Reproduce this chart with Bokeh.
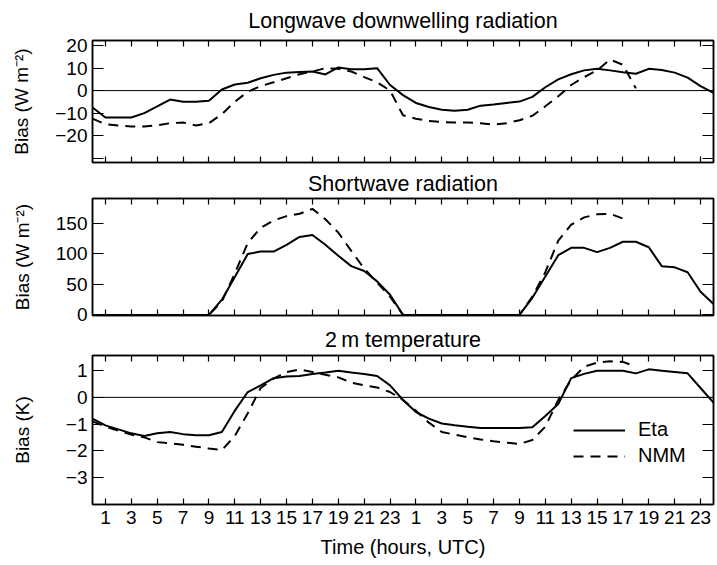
from bokeh.plotting import figure
from bokeh.layouts import column
from bokeh.models import Range1d, LinearAxis, FixedTicker, Span, Legend, LegendItem
from bokeh.embed import file_html
from bokeh.resources import INLINE

# ---------------- data ----------------
hours = list(range(0, 49))
x_ticks = [1, 3, 5, 7, 9, 11, 13, 15, 17, 19, 21, 23,
           25, 27, 29, 31, 33, 35, 37, 39, 41, 43, 45, 47]
x_tick_labels = ["1", "3", "5", "7", "9", "11", "13", "15", "17", "19", "21", "23",
                 "1", "3", "5", "7", "9", "11", "13", "15", "17", "19", "21", "23"]

lw_eta = [-7.5, -12, -12, -12, -10, -7, -4, -5, -5, -4.5,
          0.5, 2.7, 3.5, 5.5, 7, 8, 8.3, 8.5, 7.2, 10.3,
          9.5, 9.5, 10, 2.5, -2, -5.5, -7.3, -8.5, -9, -8.5,
          -6.7, -6.2, -5.5, -4.9, -2.8, 1.5, 5, 7.3, 9, 9.7,
          9, 8.2, 7.5, 9.7, 9.2, 8, 5.8, 2, -1]
lw_nmm = [-12.5, -15, -15.5, -16, -16, -15.5, -14.5, -14.2, -15.5, -14.5,
          -10.5, -5, -0.5, 2, 3.7, 5.5, 7.3, 8.5, 10, 9.7,
          8.5, 6, 3.7, 0, -11, -12.5, -13.5, -14, -14.2, -14.2,
          -14.5, -15.2, -14.5, -13.2, -11.2, -7, -2.5, 2.5, 6, 9,
          13.8, 11.5, 1]

sw_eta = [0, 0, 0, 0, 0, 0, 0, 0, 0, 0,
          25, 62, 100, 104, 104, 115, 128, 131, 115, 97,
          80, 72, 55, 33, 0, 0, 0, 0, 0, 0,
          0, 0, 0, 0, 28, 63, 98, 110, 110, 103,
          110, 120, 120, 111, 80, 78, 70, 38, 18]
sw_nmm = [0, 0, 0, 0, 0, 0, 0, 0, 0, 0,
          22, 68, 118, 143, 155, 162, 166, 174, 157, 135,
          105, 76, 53, 30, 0, 0, 0, 0, 0, 0,
          0, 0, 0, 0, 30, 70, 122, 148, 160, 165,
          166, 158]

t2_eta = [-0.8, -1.05, -1.2, -1.35, -1.45, -1.35, -1.3, -1.38, -1.42, -1.42,
          -1.3, -0.5, 0.2, 0.45, 0.72, 0.78, 0.8, 0.88, 0.93, 1.0,
          0.93, 0.88, 0.8, 0.45, -0.1, -0.55, -0.8, -0.98, -1.05, -1.1,
          -1.15, -1.15, -1.15, -1.15, -1.12, -0.7, -0.25, 0.72, 0.88, 1.0,
          1.0, 1.0, 0.9, 1.05, 1.0, 0.95, 0.9, 0.35, -0.2]
t2_nmm = [-0.9, -1.1, -1.25, -1.4, -1.5, -1.68, -1.72, -1.78, -1.85, -1.92,
          -1.98, -1.45, -0.6, 0.35, 0.7, 0.95, 1.05, 0.95, 0.85, 0.75,
          0.55, 0.45, 0.37, 0.2, -0.1, -0.5, -0.95, -1.3, -1.4, -1.5,
          -1.58, -1.65, -1.7, -1.75, -1.6, -1.1, -0.1, 0.65, 1.15, 1.3,
          1.35, 1.33, 1.15]

lw_ticks = [-30, -20, -10, 0, 10, 20]
lw_tick_labels = ["", "\u221220", "\u221210", "0", "10", "20"]
sw_ticks = [0, 50, 100, 150]
sw_tick_labels = ["0", "50", "100", "150"]
t2_ticks = [-3, -2, -1, 0, 1]
t2_tick_labels = ["\u22123", "\u22122", "\u22121", "0", "1"]

titles = ["Longwave downwelling radiation", "Shortwave radiation", "2\u2009m temperature"]
series_names = ["Eta", "NMM"]

FONT = "Liberation Sans"
TICK_FS = "19px"
DASH = "10 7"


def style_axis(ax, ticks, labels, tick_in, show_labels):
    ax.ticker = FixedTicker(ticks=ticks)
    ax.major_tick_in = tick_in
    ax.major_tick_out = 0
    ax.minor_tick_in = 0
    ax.minor_tick_out = 0
    ax.axis_line_color = "black"
    ax.axis_line_width = 1.5
    ax.major_tick_line_color = "black"
    ax.major_tick_line_width = 1.2
    if show_labels:
        ax.major_label_overrides = {t: l for t, l in zip(ticks, labels)}
        ax.major_label_text_font = FONT
        ax.major_label_text_font_size = TICK_FS
        ax.major_label_text_color = "black"
        ax.major_label_standoff = 5
    else:
        ax.major_label_overrides = {t: "" for t in ticks}
        ax.major_label_text_font_size = "0px"
        ax.major_label_standoff = 0


def make_panel(title, ylabel, y0, y1, yticks, ylabels, height, btop, bbottom,
               title_standoff, ylabel_standoff, bottom_labels):
    p = figure(width=717, height=height, output_backend="svg", toolbar_location=None,
               x_range=Range1d(0, 48), y_range=Range1d(y0, y1),
               x_axis_location=None, y_axis_location=None,
               min_border_left=92, min_border_right=4,
               min_border_top=btop, min_border_bottom=bbottom,
               title=title)
    p.title.align = "center"
    p.title.vertical_align = "top"
    p.title.text_font = FONT
    p.title.text_font_size = "21.5px"
    p.title.text_font_style = "normal"
    p.title.text_color = "black"
    p.title.standoff = title_standoff
    p.xgrid.visible = False
    p.ygrid.visible = False
    p.outline_line_color = "black"
    p.outline_line_width = 1.5
    p.background_fill_color = "white"
    p.border_fill_color = "white"

    left = LinearAxis()
    style_axis(left, yticks, ylabels, 11, True)
    left.axis_label = ylabel
    left.axis_label_text_font = FONT
    left.axis_label_text_font_size = "19px"
    left.axis_label_text_font_style = "normal"
    left.axis_label_text_color = "black"
    left.axis_label_standoff = ylabel_standoff
    p.add_layout(left, "left")

    right = LinearAxis()
    style_axis(right, yticks, ylabels, 11, False)
    p.add_layout(right, "right")

    top = LinearAxis()
    style_axis(top, x_ticks, x_tick_labels, 6, False)
    p.add_layout(top, "above")

    bottom = LinearAxis()
    style_axis(bottom, x_ticks, x_tick_labels, 6, bottom_labels)
    if bottom_labels:
        bottom.major_label_standoff = 6
        bottom.axis_label = "Time (hours, UTC)"
        bottom.axis_label_text_font = FONT
        bottom.axis_label_text_font_size = "20px"
        bottom.axis_label_text_font_style = "normal"
        bottom.axis_label_text_color = "black"
        bottom.axis_label_standoff = 9
    p.add_layout(bottom, "below")
    return p


ylab_w = "Bias (W m\u207b\u00b2)"

p1 = make_panel(titles[0], ylab_w, -32, 22.3, lw_ticks, lw_tick_labels,
                170, 40, 8, 12, 20, False)
p1.add_layout(Span(location=0, dimension="width", line_color="black", line_width=1))
p1.line(hours, lw_eta, line_color="black", line_width=2)
p1.line(hours[:len(lw_nmm)], lw_nmm, line_color="black", line_width=2, line_dash=DASH)

p2 = make_panel(titles[1], ylab_w, -1, 191, sw_ticks, sw_tick_labels,
                155, 28, 10, 2, 20, False)
p2.line(hours, sw_eta, line_color="black", line_width=2)
p2.line(hours[:len(sw_nmm)], sw_nmm, line_color="black", line_width=2, line_dash=DASH)

p3 = make_panel(titles[2], "Bias (K)", -4.02, 1.57, t2_ticks, t2_tick_labels,
                240, 29, 61, 4, 30, True)
p3.add_layout(Span(location=0, dimension="width", line_color="black", line_width=1))
r_eta = p3.line(hours, t2_eta, line_color="black", line_width=2)
r_nmm = p3.line(hours[:len(t2_nmm)], t2_nmm, line_color="black", line_width=2, line_dash=DASH)

legend = Legend(items=[LegendItem(label=series_names[0], renderers=[r_eta]),
                       LegendItem(label=series_names[1], renderers=[r_nmm])],
                location=(481, 37), border_line_color=None, background_fill_alpha=0,
                glyph_width=52, glyph_height=20, label_height=20, spacing=3,
                padding=0, margin=0, label_standoff=13,
                label_text_font=FONT, label_text_font_size="20px",
                label_text_color="black")
p3.add_layout(legend)

layout = column(p1, p2, p3, spacing=0)

with open("out.html", "w") as f:
    f.write(file_html(layout, INLINE))
